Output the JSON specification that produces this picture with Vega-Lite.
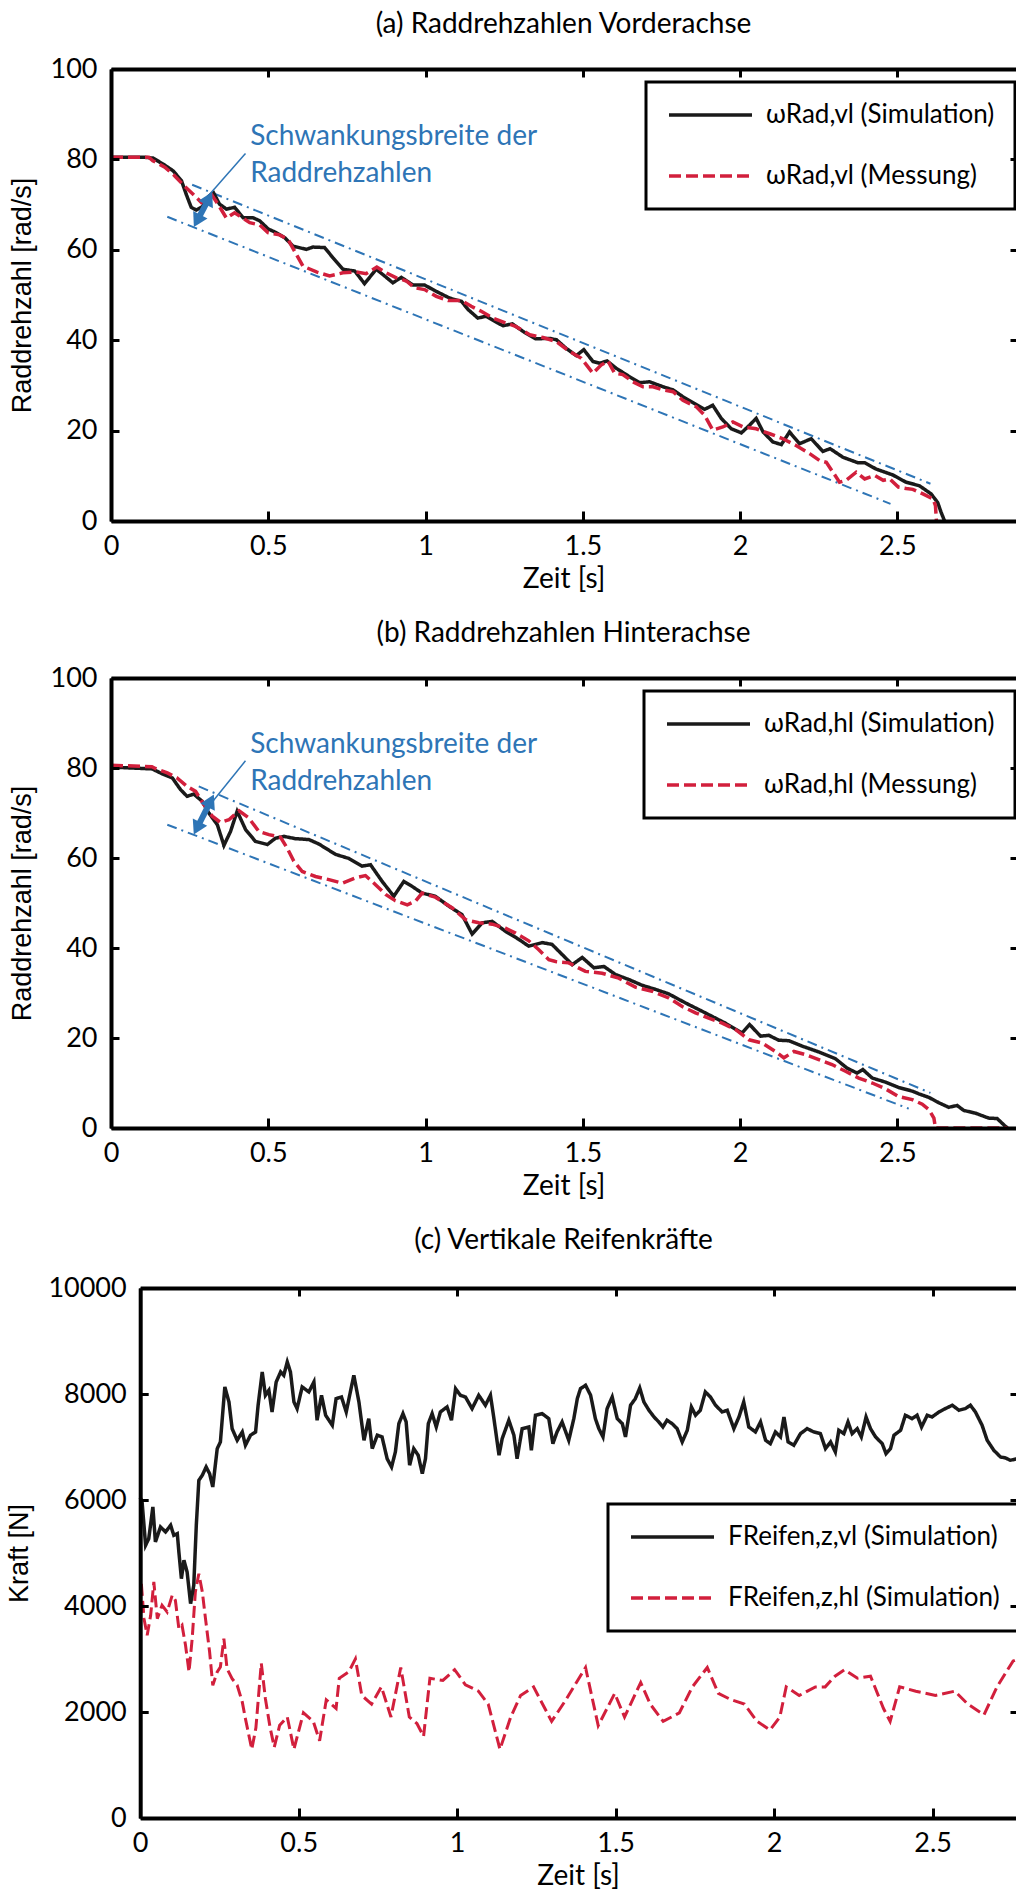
{
"$schema": "https://vega.github.io/schema/vega-lite/v6.json",
"background": "white",
"padding": {"left": 5, "top": 11, "right": 0, "bottom": 0},
"columns": 1,
"spacing": 27,
"resolve": {"scale": {"color": "independent", "strokeDash": "independent", "shape": "independent"}, "legend": {"color": "independent", "strokeDash": "independent"}},
"config": {
 "view": {"stroke": null},
 "font": "Lato",
 "axis": {"domainColor": "#000", "domainWidth": 4, "tickColor": "#000", "tickWidth": 3, "labelFont": "Lato", "labelFontSize": 27, "labelColor": "#000", "titleFont": "Lato", "titleFontSize": 28, "titleFontWeight": "normal", "titleColor": "#000", "grid": false, "labelOverlap": false},
 "axisY": {"titleFont": "Liberation Sans", "titleFontSize": 27},
 "title": {"font": "Lato", "fontSize": 28, "fontWeight": "normal", "color": "#000", "offset": 16},
 "legend": {"title": null, "symbolType": "M-1,0H7.3", "symbolSize": 400, "symbolStrokeWidth": 3.5, "labelFont": "Lato", "labelFontSize": 26, "labelColor": "#000", "labelOffset": 74, "padding": 20, "rowPadding": 35, "strokeColor": "#000", "strokeWidth": 3, "fillColor": "#fff", "labelLimit": 0}
},
"datasets": {
 "a": [
  {"t":0,"v":80.5,"s":"sim"},{"t":0.1,"v":80.5,"s":"sim"},{"t":0.133,"v":80.3,"s":"sim"},{"t":0.165,"v":79.0,"s":"sim"},{"t":0.197,"v":77.5,"s":"sim"},{"t":0.224,"v":75.3,"s":"sim"},{"t":0.239,"v":72.3,"s":"sim"},{"t":0.255,"v":69.4,"s":"sim"},{"t":0.271,"v":68.8,"s":"sim"},{"t":0.29,"v":69.5,"s":"sim"},{"t":0.31,"v":71.8,"s":"sim"},{"t":0.326,"v":72.6,"s":"sim"},{"t":0.345,"v":70.1,"s":"sim"},{"t":0.367,"v":69.0,"s":"sim"},{"t":0.393,"v":69.4,"s":"sim"},{"t":0.42,"v":67.1,"s":"sim"},{"t":0.451,"v":67.1,"s":"sim"},{"t":0.473,"v":66.4,"s":"sim"},{"t":0.5,"v":64.6,"s":"sim"},{"t":0.525,"v":63.8,"s":"sim"},{"t":0.552,"v":62.7,"s":"sim"},{"t":0.579,"v":60.8,"s":"sim"},{"t":0.621,"v":60.1,"s":"sim"},{"t":0.642,"v":60.6,"s":"sim"},{"t":0.679,"v":60.5,"s":"sim"},{"t":0.706,"v":58.2,"s":"sim"},{"t":0.737,"v":55.7,"s":"sim"},{"t":0.775,"v":55.3,"s":"sim"},{"t":0.806,"v":52.5,"s":"sim"},{"t":0.843,"v":55.7,"s":"sim"},{"t":0.87,"v":54.2,"s":"sim"},{"t":0.896,"v":52.7,"s":"sim"},{"t":0.923,"v":53.9,"s":"sim"},{"t":0.96,"v":52.2,"s":"sim"},{"t":0.997,"v":52.2,"s":"sim"},{"t":1.034,"v":50.8,"s":"sim"},{"t":1.077,"v":49.3,"s":"sim"},{"t":1.114,"v":48.6,"s":"sim"},{"t":1.135,"v":46.8,"s":"sim"},{"t":1.166,"v":44.9,"s":"sim"},{"t":1.193,"v":45.3,"s":"sim"},{"t":1.23,"v":43.8,"s":"sim"},{"t":1.246,"v":43.2,"s":"sim"},{"t":1.276,"v":43.6,"s":"sim"},{"t":1.313,"v":41.8,"s":"sim"},{"t":1.35,"v":40.3,"s":"sim"},{"t":1.394,"v":40.4,"s":"sim"},{"t":1.416,"v":40.1,"s":"sim"},{"t":1.447,"v":38.2,"s":"sim"},{"t":1.479,"v":36.6,"s":"sim"},{"t":1.503,"v":37.9,"s":"sim"},{"t":1.532,"v":35.3,"s":"sim"},{"t":1.553,"v":34.9,"s":"sim"},{"t":1.577,"v":35.4,"s":"sim"},{"t":1.606,"v":33.8,"s":"sim"},{"t":1.649,"v":31.9,"s":"sim"},{"t":1.681,"v":30.6,"s":"sim"},{"t":1.712,"v":30.8,"s":"sim"},{"t":1.755,"v":29.7,"s":"sim"},{"t":1.787,"v":29.0,"s":"sim"},{"t":1.818,"v":27.5,"s":"sim"},{"t":1.855,"v":26.0,"s":"sim"},{"t":1.887,"v":24.7,"s":"sim"},{"t":1.913,"v":25.6,"s":"sim"},{"t":1.94,"v":22.7,"s":"sim"},{"t":1.972,"v":20.4,"s":"sim"},{"t":2.004,"v":19.5,"s":"sim"},{"t":2.03,"v":21.2,"s":"sim"},{"t":2.051,"v":22.7,"s":"sim"},{"t":2.073,"v":19.7,"s":"sim"},{"t":2.104,"v":17.5,"s":"sim"},{"t":2.131,"v":16.9,"s":"sim"},{"t":2.157,"v":19.7,"s":"sim"},{"t":2.189,"v":17.1,"s":"sim"},{"t":2.226,"v":18.2,"s":"sim"},{"t":2.263,"v":15.4,"s":"sim"},{"t":2.286,"v":16.0,"s":"sim"},{"t":2.327,"v":14.1,"s":"sim"},{"t":2.374,"v":12.9,"s":"sim"},{"t":2.396,"v":12.9,"s":"sim"},{"t":2.432,"v":11.5,"s":"sim"},{"t":2.485,"v":10.2,"s":"sim"},{"t":2.527,"v":8.6,"s":"sim"},{"t":2.57,"v":7.8,"s":"sim"},{"t":2.607,"v":6.0,"s":"sim"},{"t":2.628,"v":4.1,"s":"sim"},{"t":2.639,"v":1.9,"s":"sim"},{"t":2.65,"v":0,"s":"sim"},
  {"t":0,"v":80.5,"s":"mes"},{"t":0.12,"v":80.5,"s":"mes"},{"t":0.133,"v":79.7,"s":"mes"},{"t":0.171,"v":78.3,"s":"mes"},{"t":0.202,"v":76.4,"s":"mes"},{"t":0.232,"v":74.2,"s":"mes"},{"t":0.261,"v":72.3,"s":"mes"},{"t":0.287,"v":70.5,"s":"mes"},{"t":0.319,"v":72.3,"s":"mes"},{"t":0.34,"v":70.1,"s":"mes"},{"t":0.367,"v":67.0,"s":"mes"},{"t":0.393,"v":68.2,"s":"mes"},{"t":0.409,"v":67.5,"s":"mes"},{"t":0.441,"v":66.0,"s":"mes"},{"t":0.473,"v":65.5,"s":"mes"},{"t":0.499,"v":63.8,"s":"mes"},{"t":0.536,"v":63.3,"s":"mes"},{"t":0.563,"v":62.3,"s":"mes"},{"t":0.589,"v":59.0,"s":"mes"},{"t":0.61,"v":56.4,"s":"mes"},{"t":0.653,"v":55.1,"s":"mes"},{"t":0.695,"v":54.2,"s":"mes"},{"t":0.737,"v":54.9,"s":"mes"},{"t":0.78,"v":55.1,"s":"mes"},{"t":0.811,"v":54.7,"s":"mes"},{"t":0.845,"v":56.2,"s":"mes"},{"t":0.875,"v":54.9,"s":"mes"},{"t":0.907,"v":53.8,"s":"mes"},{"t":0.939,"v":53.1,"s":"mes"},{"t":0.965,"v":51.6,"s":"mes"},{"t":0.997,"v":51.2,"s":"mes"},{"t":1.034,"v":49.7,"s":"mes"},{"t":1.071,"v":48.8,"s":"mes"},{"t":1.114,"v":48.8,"s":"mes"},{"t":1.145,"v":47.5,"s":"mes"},{"t":1.177,"v":46.4,"s":"mes"},{"t":1.214,"v":44.9,"s":"mes"},{"t":1.256,"v":43.8,"s":"mes"},{"t":1.288,"v":43.0,"s":"mes"},{"t":1.331,"v":41.2,"s":"mes"},{"t":1.373,"v":40.6,"s":"mes"},{"t":1.416,"v":39.7,"s":"mes"},{"t":1.458,"v":37.5,"s":"mes"},{"t":1.495,"v":36.0,"s":"mes"},{"t":1.532,"v":32.7,"s":"mes"},{"t":1.558,"v":34.5,"s":"mes"},{"t":1.58,"v":35.4,"s":"mes"},{"t":1.601,"v":32.7,"s":"mes"},{"t":1.627,"v":32.4,"s":"mes"},{"t":1.659,"v":30.8,"s":"mes"},{"t":1.691,"v":29.7,"s":"mes"},{"t":1.723,"v":29.7,"s":"mes"},{"t":1.755,"v":29.0,"s":"mes"},{"t":1.787,"v":28.6,"s":"mes"},{"t":1.818,"v":26.7,"s":"mes"},{"t":1.86,"v":25.3,"s":"mes"},{"t":1.887,"v":23.4,"s":"mes"},{"t":1.913,"v":20.1,"s":"mes"},{"t":1.945,"v":20.8,"s":"mes"},{"t":1.977,"v":21.9,"s":"mes"},{"t":2.01,"v":20.8,"s":"mes"},{"t":2.051,"v":20.4,"s":"mes"},{"t":2.094,"v":19.3,"s":"mes"},{"t":2.136,"v":18.2,"s":"mes"},{"t":2.178,"v":16.7,"s":"mes"},{"t":2.221,"v":14.9,"s":"mes"},{"t":2.252,"v":13.4,"s":"mes"},{"t":2.274,"v":13.0,"s":"mes"},{"t":2.295,"v":10.8,"s":"mes"},{"t":2.316,"v":8.6,"s":"mes"},{"t":2.337,"v":9.0,"s":"mes"},{"t":2.369,"v":10.8,"s":"mes"},{"t":2.396,"v":9.3,"s":"mes"},{"t":2.428,"v":10.1,"s":"mes"},{"t":2.455,"v":9.0,"s":"mes"},{"t":2.476,"v":9.3,"s":"mes"},{"t":2.503,"v":7.5,"s":"mes"},{"t":2.528,"v":7.2,"s":"mes"},{"t":2.549,"v":7.0,"s":"mes"},{"t":2.581,"v":6.0,"s":"mes"},{"t":2.613,"v":4.9,"s":"mes"},{"t":2.621,"v":3.4,"s":"mes"},{"t":2.624,"v":0,"s":"mes"}
 ],
 "bandA": [{"t":0.258,"v":74.4,"g":"oben"},{"t":2.605,"v":8.25,"g":"oben"},{"t":0.179,"v":67.3,"g":"unten"},{"t":2.478,"v":3.8,"g":"unten"}],
 "shaftA": [{"t":0.2737,"v":66.4,"t2":0.3115,"v2":71.4}],
 "ptrA": [{"t":0.4275,"v":81.3,"t2":0.306,"v2":71.7}],
 "headsA": [{"t":0.3115,"v":71.4,"end":"oben"},{"t":0.2737,"v":66.4,"end":"unten"}],
 "noteA": [{"t":0.4425,"v":83.1,"label":"Schwankungsbreite der"},{"t":0.4425,"v":75.0,"label":"Raddrehzahlen"}],
 "b": [
  {"t":0,"v":80.2,"s":"sim"},{"t":0.131,"v":79.8,"s":"sim"},{"t":0.163,"v":78.7,"s":"sim"},{"t":0.195,"v":77.8,"s":"sim"},{"t":0.221,"v":75.2,"s":"sim"},{"t":0.242,"v":73.7,"s":"sim"},{"t":0.263,"v":74.2,"s":"sim"},{"t":0.29,"v":72.6,"s":"sim"},{"t":0.311,"v":70.0,"s":"sim"},{"t":0.338,"v":67.4,"s":"sim"},{"t":0.359,"v":62.8,"s":"sim"},{"t":0.38,"v":65.9,"s":"sim"},{"t":0.401,"v":70.4,"s":"sim"},{"t":0.428,"v":66.3,"s":"sim"},{"t":0.459,"v":63.7,"s":"sim"},{"t":0.497,"v":63.0,"s":"sim"},{"t":0.523,"v":64.4,"s":"sim"},{"t":0.55,"v":64.8,"s":"sim"},{"t":0.586,"v":64.3,"s":"sim"},{"t":0.629,"v":64.1,"s":"sim"},{"t":0.661,"v":63.1,"s":"sim"},{"t":0.714,"v":60.8,"s":"sim"},{"t":0.756,"v":59.9,"s":"sim"},{"t":0.798,"v":58.2,"s":"sim"},{"t":0.825,"v":58.5,"s":"sim"},{"t":0.862,"v":54.8,"s":"sim"},{"t":0.899,"v":51.5,"s":"sim"},{"t":0.931,"v":54.8,"s":"sim"},{"t":0.957,"v":53.7,"s":"sim"},{"t":0.989,"v":52.2,"s":"sim"},{"t":1.031,"v":51.5,"s":"sim"},{"t":1.074,"v":49.3,"s":"sim"},{"t":1.116,"v":47.4,"s":"sim"},{"t":1.148,"v":43.1,"s":"sim"},{"t":1.18,"v":45.6,"s":"sim"},{"t":1.212,"v":45.9,"s":"sim"},{"t":1.254,"v":43.7,"s":"sim"},{"t":1.297,"v":41.9,"s":"sim"},{"t":1.328,"v":40.4,"s":"sim"},{"t":1.371,"v":41.2,"s":"sim"},{"t":1.402,"v":40.8,"s":"sim"},{"t":1.445,"v":37.8,"s":"sim"},{"t":1.466,"v":36.3,"s":"sim"},{"t":1.498,"v":37.9,"s":"sim"},{"t":1.535,"v":35.6,"s":"sim"},{"t":1.567,"v":35.9,"s":"sim"},{"t":1.604,"v":34.1,"s":"sim"},{"t":1.646,"v":33.0,"s":"sim"},{"t":1.689,"v":31.7,"s":"sim"},{"t":1.731,"v":30.8,"s":"sim"},{"t":1.773,"v":29.8,"s":"sim"},{"t":1.826,"v":27.8,"s":"sim"},{"t":1.869,"v":26.3,"s":"sim"},{"t":1.911,"v":24.8,"s":"sim"},{"t":1.953,"v":23.3,"s":"sim"},{"t":2.006,"v":21.1,"s":"sim"},{"t":2.03,"v":23.0,"s":"sim"},{"t":2.065,"v":20.4,"s":"sim"},{"t":2.091,"v":20.6,"s":"sim"},{"t":2.123,"v":19.5,"s":"sim"},{"t":2.155,"v":19.4,"s":"sim"},{"t":2.197,"v":18.2,"s":"sim"},{"t":2.25,"v":16.9,"s":"sim"},{"t":2.303,"v":15.4,"s":"sim"},{"t":2.34,"v":13.3,"s":"sim"},{"t":2.372,"v":12.2,"s":"sim"},{"t":2.39,"v":13.0,"s":"sim"},{"t":2.42,"v":11.1,"s":"sim"},{"t":2.462,"v":10.2,"s":"sim"},{"t":2.504,"v":9.0,"s":"sim"},{"t":2.547,"v":8.2,"s":"sim"},{"t":2.568,"v":7.6,"s":"sim"},{"t":2.6,"v":6.8,"s":"sim"},{"t":2.632,"v":5.6,"s":"sim"},{"t":2.663,"v":4.6,"s":"sim"},{"t":2.69,"v":5.0,"s":"sim"},{"t":2.711,"v":3.9,"s":"sim"},{"t":2.748,"v":3.3,"s":"sim"},{"t":2.79,"v":2.2,"s":"sim"},{"t":2.817,"v":2.1,"s":"sim"},{"t":2.843,"v":0.4,"s":"sim"},{"t":2.85,"v":0,"s":"sim"},
  {"t":0,"v":80.6,"s":"mes"},{"t":0.13,"v":80.3,"s":"mes"},{"t":0.141,"v":79.9,"s":"mes"},{"t":0.179,"v":78.9,"s":"mes"},{"t":0.21,"v":77.8,"s":"mes"},{"t":0.242,"v":75.9,"s":"mes"},{"t":0.269,"v":74.8,"s":"mes"},{"t":0.295,"v":71.9,"s":"mes"},{"t":0.322,"v":69.3,"s":"mes"},{"t":0.348,"v":67.9,"s":"mes"},{"t":0.375,"v":68.5,"s":"mes"},{"t":0.407,"v":70.5,"s":"mes"},{"t":0.438,"v":68.9,"s":"mes"},{"t":0.47,"v":65.9,"s":"mes"},{"t":0.502,"v":65.2,"s":"mes"},{"t":0.539,"v":64.6,"s":"mes"},{"t":0.56,"v":62.2,"s":"mes"},{"t":0.581,"v":59.3,"s":"mes"},{"t":0.608,"v":57.0,"s":"mes"},{"t":0.65,"v":55.9,"s":"mes"},{"t":0.693,"v":55.2,"s":"mes"},{"t":0.735,"v":54.4,"s":"mes"},{"t":0.777,"v":55.6,"s":"mes"},{"t":0.809,"v":56.1,"s":"mes"},{"t":0.836,"v":54.4,"s":"mes"},{"t":0.873,"v":51.9,"s":"mes"},{"t":0.904,"v":50.5,"s":"mes"},{"t":0.942,"v":49.6,"s":"mes"},{"t":0.968,"v":50.4,"s":"mes"},{"t":0.989,"v":52.2,"s":"mes"},{"t":1.031,"v":51.3,"s":"mes"},{"t":1.085,"v":48.9,"s":"mes"},{"t":1.127,"v":46.3,"s":"mes"},{"t":1.169,"v":45.6,"s":"mes"},{"t":1.212,"v":45.3,"s":"mes"},{"t":1.254,"v":44.4,"s":"mes"},{"t":1.286,"v":43.3,"s":"mes"},{"t":1.328,"v":41.6,"s":"mes"},{"t":1.36,"v":39.6,"s":"mes"},{"t":1.392,"v":37.4,"s":"mes"},{"t":1.413,"v":37.0,"s":"mes"},{"t":1.455,"v":36.7,"s":"mes"},{"t":1.508,"v":34.8,"s":"mes"},{"t":1.561,"v":34.4,"s":"mes"},{"t":1.614,"v":33.3,"s":"mes"},{"t":1.667,"v":31.3,"s":"mes"},{"t":1.72,"v":30.4,"s":"mes"},{"t":1.773,"v":28.9,"s":"mes"},{"t":1.816,"v":27.0,"s":"mes"},{"t":1.858,"v":25.6,"s":"mes"},{"t":1.9,"v":24.4,"s":"mes"},{"t":1.943,"v":23.3,"s":"mes"},{"t":1.985,"v":21.9,"s":"mes"},{"t":2.028,"v":19.6,"s":"mes"},{"t":2.07,"v":18.9,"s":"mes"},{"t":2.112,"v":17.0,"s":"mes"},{"t":2.139,"v":15.6,"s":"mes"},{"t":2.171,"v":17.0,"s":"mes"},{"t":2.208,"v":16.3,"s":"mes"},{"t":2.25,"v":15.2,"s":"mes"},{"t":2.292,"v":14.1,"s":"mes"},{"t":2.335,"v":12.6,"s":"mes"},{"t":2.377,"v":11.1,"s":"mes"},{"t":2.42,"v":10.0,"s":"mes"},{"t":2.462,"v":8.7,"s":"mes"},{"t":2.504,"v":7.0,"s":"mes"},{"t":2.547,"v":6.3,"s":"mes"},{"t":2.579,"v":5.3,"s":"mes"},{"t":2.6,"v":4.1,"s":"mes"},{"t":2.616,"v":2.2,"s":"mes"},{"t":2.621,"v":0,"s":"mes"},{"t":2.85,"v":0,"s":"mes"}
 ],
 "bandB": [{"t":0.279,"v":75.9,"g":"oben"},{"t":2.605,"v":7.8,"g":"oben"},{"t":0.179,"v":67.4,"g":"unten"},{"t":2.536,"v":4.3,"g":"unten"}],
 "shaftB": [{"t":0.273,"v":66.6,"t2":0.317,"v2":72.7}],
 "ptrB": [{"t":0.4275,"v":81.6,"t2":0.311,"v2":71.5}],
 "headsB": [{"t":0.317,"v":72.7,"end":"oben"},{"t":0.273,"v":66.6,"end":"unten"}],
 "noteB": [{"t":0.4425,"v":83.4,"label":"Schwankungsbreite der"},{"t":0.4425,"v":75.2,"label":"Raddrehzahlen"}],
 "cvl": [
  {"t":0,"F":6048},{"t":0.006,"F":5963},{"t":0.017,"F":5146},{"t":0.027,"F":5271},{"t":0.04,"F":5869},{"t":0.048,"F":5208},{"t":0.064,"F":5491},{"t":0.08,"F":5397},{"t":0.096,"F":5523},{"t":0.106,"F":5334},{"t":0.117,"F":5365},{"t":0.122,"F":5019},{"t":0.13,"F":4516},{"t":0.138,"F":4863},{"t":0.148,"F":4642},{"t":0.159,"F":4044},{"t":0.169,"F":4391},{"t":0.177,"F":5523},{"t":0.185,"F":6372},{"t":0.196,"F":6467},{"t":0.208,"F":6623},{"t":0.219,"F":6497},{"t":0.229,"F":6246},{"t":0.243,"F":6969},{"t":0.253,"F":7095},{"t":0.267,"F":8133},{"t":0.28,"F":7850},{"t":0.29,"F":7346},{"t":0.306,"F":7127},{"t":0.322,"F":7284},{"t":0.332,"F":7033},{"t":0.348,"F":7222},{"t":0.364,"F":7284},{"t":0.372,"F":7788},{"t":0.385,"F":8416},{"t":0.395,"F":7976},{"t":0.406,"F":8070},{"t":0.416,"F":7661},{"t":0.429,"F":8227},{"t":0.443,"F":8416},{"t":0.453,"F":8354},{"t":0.464,"F":8605},{"t":0.474,"F":8416},{"t":0.485,"F":7850},{"t":0.495,"F":7724},{"t":0.511,"F":8133},{"t":0.532,"F":8039},{"t":0.548,"F":8227},{"t":0.558,"F":7505},{"t":0.572,"F":7976},{"t":0.585,"F":7599},{"t":0.606,"F":7410},{"t":0.618,"F":7912},{"t":0.635,"F":7944},{"t":0.65,"F":7661},{"t":0.663,"F":8039},{"t":0.674,"F":8354},{"t":0.69,"F":7850},{"t":0.706,"F":7127},{"t":0.721,"F":7535},{"t":0.732,"F":6969},{"t":0.748,"F":7222},{"t":0.763,"F":7190},{"t":0.779,"F":6780},{"t":0.793,"F":6623},{"t":0.805,"F":6906},{"t":0.816,"F":7441},{"t":0.829,"F":7630},{"t":0.839,"F":7473},{"t":0.85,"F":6656},{"t":0.863,"F":6969},{"t":0.877,"F":6844},{"t":0.89,"F":6497},{"t":0.9,"F":6780},{"t":0.909,"F":7441},{"t":0.921,"F":7630},{"t":0.934,"F":7378},{"t":0.947,"F":7661},{"t":0.968,"F":7756},{"t":0.982,"F":7505},{"t":0.995,"F":8101},{"t":1.01,"F":7976},{"t":1.026,"F":7944},{"t":1.047,"F":7724},{"t":1.068,"F":7976},{"t":1.089,"F":7788},{"t":1.105,"F":7976},{"t":1.116,"F":7535},{"t":1.132,"F":6844},{"t":1.142,"F":7158},{"t":1.163,"F":7505},{"t":1.179,"F":7222},{"t":1.189,"F":6780},{"t":1.205,"F":7346},{"t":1.226,"F":7378},{"t":1.234,"F":6938},{"t":1.247,"F":7599},{"t":1.268,"F":7630},{"t":1.289,"F":7535},{"t":1.302,"F":7063},{"t":1.315,"F":7284},{"t":1.331,"F":7473},{"t":1.352,"F":7127},{"t":1.368,"F":7535},{"t":1.379,"F":7912},{"t":1.389,"F":8100},{"t":1.405,"F":8165},{"t":1.421,"F":7976},{"t":1.436,"F":7535},{"t":1.447,"F":7346},{"t":1.46,"F":7190},{"t":1.473,"F":7724},{"t":1.489,"F":7944},{"t":1.505,"F":7535},{"t":1.521,"F":7441},{"t":1.531,"F":7190},{"t":1.547,"F":7788},{"t":1.562,"F":7912},{"t":1.576,"F":8114},{"t":1.589,"F":7850},{"t":1.605,"F":7693},{"t":1.621,"F":7567},{"t":1.636,"F":7473},{"t":1.649,"F":7378},{"t":1.662,"F":7505},{"t":1.678,"F":7441},{"t":1.694,"F":7346},{"t":1.71,"F":7095},{"t":1.726,"F":7316},{"t":1.739,"F":7756},{"t":1.752,"F":7599},{"t":1.767,"F":7693},{"t":1.783,"F":8039},{"t":1.799,"F":7944},{"t":1.815,"F":7788},{"t":1.836,"F":7661},{"t":1.852,"F":7693},{"t":1.873,"F":7346},{"t":1.889,"F":7567},{"t":1.904,"F":7850},{"t":1.92,"F":7378},{"t":1.941,"F":7284},{"t":1.957,"F":7473},{"t":1.973,"F":7127},{"t":1.988,"F":7063},{"t":2.004,"F":7284},{"t":2.02,"F":7190},{"t":2.031,"F":7567},{"t":2.044,"F":7095},{"t":2.062,"F":7033},{"t":2.083,"F":7252},{"t":2.104,"F":7346},{"t":2.125,"F":7284},{"t":2.146,"F":7252},{"t":2.162,"F":6969},{"t":2.178,"F":7095},{"t":2.193,"F":6906},{"t":2.204,"F":7316},{"t":2.22,"F":7252},{"t":2.233,"F":7473},{"t":2.246,"F":7252},{"t":2.262,"F":7346},{"t":2.275,"F":7190},{"t":2.29,"F":7567},{"t":2.304,"F":7346},{"t":2.32,"F":7190},{"t":2.341,"F":7063},{"t":2.353,"F":6874},{"t":2.367,"F":6969},{"t":2.378,"F":7222},{"t":2.399,"F":7316},{"t":2.414,"F":7599},{"t":2.435,"F":7535},{"t":2.451,"F":7599},{"t":2.465,"F":7378},{"t":2.483,"F":7599},{"t":2.498,"F":7567},{"t":2.52,"F":7661},{"t":2.54,"F":7724},{"t":2.562,"F":7788},{"t":2.583,"F":7693},{"t":2.603,"F":7724},{"t":2.619,"F":7788},{"t":2.635,"F":7661},{"t":2.656,"F":7410},{"t":2.672,"F":7127},{"t":2.693,"F":6938},{"t":2.714,"F":6812},{"t":2.73,"F":6793},{"t":2.745,"F":6750},{"t":2.769,"F":6780}
 ],
 "chl": [
  {"t":0,"F":4391},{"t":0.004,"F":4391},{"t":0.012,"F":3761},{"t":0.022,"F":3447},{"t":0.033,"F":3825},{"t":0.043,"F":4453},{"t":0.054,"F":3761},{"t":0.069,"F":4013},{"t":0.085,"F":3887},{"t":0.101,"F":4202},{"t":0.111,"F":4108},{"t":0.122,"F":3572},{"t":0.132,"F":3636},{"t":0.143,"F":3259},{"t":0.154,"F":2755},{"t":0.164,"F":3384},{"t":0.174,"F":4265},{"t":0.185,"F":4610},{"t":0.196,"F":4265},{"t":0.206,"F":3761},{"t":0.219,"F":3132},{"t":0.229,"F":2504},{"t":0.243,"F":2755},{"t":0.253,"F":2849},{"t":0.264,"F":3384},{"t":0.274,"F":2817},{"t":0.29,"F":2629},{"t":0.306,"F":2504},{"t":0.322,"F":2189},{"t":0.332,"F":1874},{"t":0.352,"F":1296},{"t":0.365,"F":1700},{"t":0.382,"F":2921},{"t":0.395,"F":2251},{"t":0.41,"F":1700},{"t":0.423,"F":1336},{"t":0.44,"F":1750},{"t":0.464,"F":1906},{"t":0.485,"F":1296},{"t":0.515,"F":1985},{"t":0.546,"F":1823},{"t":0.566,"F":1459},{"t":0.587,"F":2230},{"t":0.618,"F":2066},{"t":0.628,"F":2636},{"t":0.658,"F":2757},{"t":0.679,"F":3002},{"t":0.699,"F":2312},{"t":0.73,"F":2149},{"t":0.761,"F":2474},{"t":0.791,"F":1906},{"t":0.822,"F":2840},{"t":0.849,"F":1906},{"t":0.873,"F":1783},{"t":0.894,"F":1540},{"t":0.914,"F":2636},{"t":0.955,"F":2595},{"t":0.992,"F":2798},{"t":1.026,"F":2514},{"t":1.067,"F":2393},{"t":1.098,"F":2149},{"t":1.135,"F":1296},{"t":1.169,"F":1906},{"t":1.2,"F":2312},{"t":1.241,"F":2474},{"t":1.298,"F":1823},{"t":1.343,"F":2230},{"t":1.405,"F":2840},{"t":1.445,"F":1742},{"t":1.497,"F":2351},{"t":1.528,"F":1906},{"t":1.579,"F":2555},{"t":1.609,"F":2149},{"t":1.65,"F":1823},{"t":1.701,"F":1985},{"t":1.742,"F":2474},{"t":1.789,"F":2840},{"t":1.824,"F":2351},{"t":1.865,"F":2230},{"t":1.906,"F":2149},{"t":1.946,"F":1823},{"t":1.987,"F":1661},{"t":2.018,"F":1906},{"t":2.038,"F":2474},{"t":2.079,"F":2312},{"t":2.13,"F":2474},{"t":2.161,"F":2474},{"t":2.192,"F":2676},{"t":2.222,"F":2798},{"t":2.263,"F":2636},{"t":2.304,"F":2676},{"t":2.345,"F":2066},{"t":2.366,"F":1823},{"t":2.396,"F":2474},{"t":2.447,"F":2393},{"t":2.509,"F":2312},{"t":2.57,"F":2393},{"t":2.611,"F":2149},{"t":2.662,"F":1946},{"t":2.703,"F":2474},{"t":2.754,"F":2963},{"t":2.77,"F":3000}
 ]
},
"concat": [
 {
  "width": 905, "height": 452,
  "title": {"text": "(a) Raddrehzahlen Vorderachse"},
  "resolve": {"axis": {"x": "independent", "y": "independent"}},
  "layer": [
   {"data": {"name": "bandA"}, "mark": {"type": "line", "color": "#2E75B6", "strokeWidth": 2, "strokeDash": [10, 5, 2, 5], "clip": true},
    "encoding": {
     "x": {"field": "t", "type": "quantitative", "scale": {"domain": [0, 2.877], "nice": false, "zero": false}, "axis": {"orient": "top", "labels": false, "title": null, "values": [0, 0.5, 1, 1.5, 2, 2.5], "tickSize": -8, "zindex": 1}},
     "y": {"field": "v", "type": "quantitative", "scale": {"domain": [0, 100], "nice": false, "zero": false}, "axis": {"orient": "right", "labels": false, "title": null, "domain": false, "values": [0, 20, 40, 60, 80, 100], "tickSize": -6, "zindex": 1}},
     "detail": {"field": "g"}}},
   {"data": {"name": "a"}, "mark": {"type": "line", "strokeWidth": 3.5, "clip": true},
    "encoding": {
     "x": {"field": "t", "type": "quantitative", "scale": {"domain": [0, 2.877], "nice": false, "zero": false}, "axis": {"orient": "bottom", "title": "Zeit [s]", "values": [0, 0.5, 1, 1.5, 2, 2.5], "format": "~g", "labelFlush": false, "labelPadding": 22, "tickSize": -10, "titlePadding": 6, "zindex": 1}},
     "y": {"field": "v", "type": "quantitative", "scale": {"domain": [0, 100], "nice": false, "zero": false}, "axis": {"orient": "left", "title": "Raddrehzahl [rad/s]", "values": [0, 20, 40, 60, 80, 100], "labelPadding": 22, "tickSize": -8, "titlePadding": 14, "zindex": 1}},
     "color": {"field": "s", "type": "nominal", "scale": {"domain": ["sim", "mes"], "range": ["#1a1a1a", "#D21F3C"]}, "legend": {"orient": "none", "legendX": 535, "legendY": 13, "labelExpr": "datum.label == 'sim' ? 'ωRad,vl (Simulation)' : 'ωRad,vl (Messung)'"}},
     "strokeDash": {"field": "s", "type": "nominal", "scale": {"domain": ["sim", "mes"], "range": [[1, 0], [12, 5]]}, "legend": {"orient": "none", "legendX": 535, "legendY": 13, "labelExpr": "datum.label == 'sim' ? 'ωRad,vl (Simulation)' : 'ωRad,vl (Messung)'"}}}},
   {"data": {"name": "shaftA"}, "mark": {"type": "rule", "color": "#2E75B6", "strokeWidth": 6},
    "encoding": {"x": {"field": "t", "type": "quantitative", "scale": {"domain": [0, 2.877]}, "axis": null}, "y": {"field": "v", "type": "quantitative", "scale": {"domain": [0, 100]}, "axis": null}, "x2": {"field": "t2"}, "y2": {"field": "v2"}}},
   {"data": {"name": "ptrA"}, "mark": {"type": "rule", "color": "#2E75B6", "strokeWidth": 1.5},
    "encoding": {"x": {"field": "t", "type": "quantitative", "scale": {"domain": [0, 2.877]}, "axis": null}, "y": {"field": "v", "type": "quantitative", "scale": {"domain": [0, 100]}, "axis": null}, "x2": {"field": "t2"}, "y2": {"field": "v2"}}},
   {"data": {"name": "headsA"}, "mark": {"type": "point", "filled": true, "color": "#2E75B6", "opacity": 1, "size": 260, "angle": 27.6},
    "encoding": {"x": {"field": "t", "type": "quantitative", "scale": {"domain": [0, 2.877]}, "axis": null}, "y": {"field": "v", "type": "quantitative", "scale": {"domain": [0, 100]}, "axis": null},
     "shape": {"field": "end", "type": "nominal", "scale": {"domain": ["oben", "unten"], "range": ["triangle-up", "triangle-down"]}, "legend": null}}},
   {"data": {"name": "noteA"}, "mark": {"type": "text", "align": "left", "baseline": "alphabetic", "font": "Lato", "fontSize": 28, "color": "#2E75B6"},
    "encoding": {"x": {"field": "t", "type": "quantitative", "scale": {"domain": [0, 2.877]}, "axis": null}, "y": {"field": "v", "type": "quantitative", "scale": {"domain": [0, 100]}, "axis": null}, "text": {"field": "label"}}}
  ]
 },
 {
  "width": 905, "height": 450,
  "title": {"text": "(b) Raddrehzahlen Hinterachse", "offset": 16},
  "resolve": {"axis": {"x": "independent", "y": "independent"}},
  "layer": [
   {"data": {"name": "bandB"}, "mark": {"type": "line", "color": "#2E75B6", "strokeWidth": 2, "strokeDash": [10, 5, 2, 5], "clip": true},
    "encoding": {
     "x": {"field": "t", "type": "quantitative", "scale": {"domain": [0, 2.877], "nice": false, "zero": false}, "axis": {"orient": "top", "labels": false, "title": null, "values": [0, 0.5, 1, 1.5, 2, 2.5], "tickSize": -8, "zindex": 1}},
     "y": {"field": "v", "type": "quantitative", "scale": {"domain": [0, 100], "nice": false, "zero": false}, "axis": {"orient": "right", "labels": false, "title": null, "domain": false, "values": [0, 20, 40, 60, 80, 100], "tickSize": -6, "zindex": 1}},
     "detail": {"field": "g"}}},
   {"data": {"name": "b"}, "mark": {"type": "line", "strokeWidth": 3.5, "clip": true},
    "encoding": {
     "x": {"field": "t", "type": "quantitative", "scale": {"domain": [0, 2.877], "nice": false, "zero": false}, "axis": {"orient": "bottom", "title": "Zeit [s]", "values": [0, 0.5, 1, 1.5, 2, 2.5], "format": "~g", "labelFlush": false, "labelPadding": 22, "tickSize": -10, "titlePadding": 6, "zindex": 1}},
     "y": {"field": "v", "type": "quantitative", "scale": {"domain": [0, 100], "nice": false, "zero": false}, "axis": {"orient": "left", "title": "Raddrehzahl [rad/s]", "values": [0, 20, 40, 60, 80, 100], "labelPadding": 22, "tickSize": -8, "titlePadding": 14, "zindex": 1}},
     "color": {"field": "s", "type": "nominal", "scale": {"domain": ["sim", "mes"], "range": ["#1a1a1a", "#D21F3C"]}, "legend": {"orient": "none", "legendX": 533, "legendY": 13, "labelExpr": "datum.label == 'sim' ? 'ωRad,hl (Simulation)' : 'ωRad,hl (Messung)'"}},
     "strokeDash": {"field": "s", "type": "nominal", "scale": {"domain": ["sim", "mes"], "range": [[1, 0], [12, 5]]}, "legend": {"orient": "none", "legendX": 533, "legendY": 13, "labelExpr": "datum.label == 'sim' ? 'ωRad,hl (Simulation)' : 'ωRad,hl (Messung)'"}}}},
   {"data": {"name": "shaftB"}, "mark": {"type": "rule", "color": "#2E75B6", "strokeWidth": 6},
    "encoding": {"x": {"field": "t", "type": "quantitative", "scale": {"domain": [0, 2.877]}, "axis": null}, "y": {"field": "v", "type": "quantitative", "scale": {"domain": [0, 100]}, "axis": null}, "x2": {"field": "t2"}, "y2": {"field": "v2"}}},
   {"data": {"name": "ptrB"}, "mark": {"type": "rule", "color": "#2E75B6", "strokeWidth": 1.5},
    "encoding": {"x": {"field": "t", "type": "quantitative", "scale": {"domain": [0, 2.877]}, "axis": null}, "y": {"field": "v", "type": "quantitative", "scale": {"domain": [0, 100]}, "axis": null}, "x2": {"field": "t2"}, "y2": {"field": "v2"}}},
   {"data": {"name": "headsB"}, "mark": {"type": "point", "filled": true, "color": "#2E75B6", "opacity": 1, "size": 260, "angle": 26.6},
    "encoding": {"x": {"field": "t", "type": "quantitative", "scale": {"domain": [0, 2.877]}, "axis": null}, "y": {"field": "v", "type": "quantitative", "scale": {"domain": [0, 100]}, "axis": null},
     "shape": {"field": "end", "type": "nominal", "scale": {"domain": ["oben", "unten"], "range": ["triangle-up", "triangle-down"]}, "legend": null}}},
   {"data": {"name": "noteB"}, "mark": {"type": "text", "align": "left", "baseline": "alphabetic", "font": "Lato", "fontSize": 28, "color": "#2E75B6"},
    "encoding": {"x": {"field": "t", "type": "quantitative", "scale": {"domain": [0, 2.877]}, "axis": null}, "y": {"field": "v", "type": "quantitative", "scale": {"domain": [0, 100]}, "axis": null}, "text": {"field": "label"}}}
  ]
 },
 {
  "width": 905, "height": 530,
  "title": {"text": "(c) Vertikale Reifenkräfte", "offset": 19},
  "resolve": {"axis": {"x": "independent", "y": "independent"}},
  "layer": [
   {"data": {"name": "chl"}, "mark": {"type": "line", "strokeWidth": 3, "clip": true},
    "encoding": {
     "x": {"field": "t", "type": "quantitative", "scale": {"domain": [0, 2.763], "range": [29.2, 905], "nice": false, "zero": false}, "axis": {"orient": "top", "labels": false, "title": null, "values": [0, 0.5, 1, 1.5, 2, 2.5], "tickSize": -8, "zindex": 1}},
     "y": {"field": "F", "type": "quantitative", "scale": {"domain": [0, 10000], "nice": false, "zero": false}, "axis": {"orient": "right", "labels": false, "title": null, "domain": false, "values": [0, 2000, 4000, 6000, 8000, 10000], "tickSize": -6, "zindex": 1}},
     "color": {"datum": "hl", "type": "nominal", "scale": {"domain": ["vl", "hl"], "range": ["#1a1a1a", "#D21F3C"]}, "legend": {"orient": "none", "legendX": 497, "legendY": 216, "labelExpr": "datum.label == 'vl' ? 'FReifen,z,vl (Simulation)' : 'FReifen,z,hl (Simulation)'"}},
     "strokeDash": {"datum": "hl", "type": "nominal", "scale": {"domain": ["vl", "hl"], "range": [[1, 0], [12, 5]]}, "legend": {"orient": "none", "legendX": 497, "legendY": 216, "labelExpr": "datum.label == 'vl' ? 'FReifen,z,vl (Simulation)' : 'FReifen,z,hl (Simulation)'"}}}},
   {"data": {"name": "cvl"}, "mark": {"type": "line", "strokeWidth": 3.5, "clip": true},
    "encoding": {
     "x": {"field": "t", "type": "quantitative", "scale": {"domain": [0, 2.763], "range": [29.2, 905], "nice": false, "zero": false}, "axis": {"orient": "bottom", "title": "Zeit [s]", "values": [0, 0.5, 1, 1.5, 2, 2.5], "format": "~g", "labelFlush": false, "labelPadding": 22, "tickSize": -10, "titlePadding": 6, "zindex": 1}},
     "y": {"field": "F", "type": "quantitative", "scale": {"domain": [0, 10000], "nice": false, "zero": false}, "axis": {"orient": "left", "offset": -29.2, "title": "Kraft [N]", "values": [0, 2000, 4000, 6000, 8000, 10000], "format": "d", "labelPadding": 22, "tickSize": -8, "titlePadding": 14, "zindex": 1}},
     "color": {"datum": "vl", "type": "nominal", "scale": {"domain": ["vl", "hl"], "range": ["#1a1a1a", "#D21F3C"]}, "legend": {"orient": "none", "legendX": 497, "legendY": 216, "labelExpr": "datum.label == 'vl' ? 'FReifen,z,vl (Simulation)' : 'FReifen,z,hl (Simulation)'"}},
     "strokeDash": {"datum": "vl", "type": "nominal", "scale": {"domain": ["vl", "hl"], "range": [[1, 0], [12, 5]]}, "legend": {"orient": "none", "legendX": 497, "legendY": 216, "labelExpr": "datum.label == 'vl' ? 'FReifen,z,vl (Simulation)' : 'FReifen,z,hl (Simulation)'"}}}}
  ]
 }
]
}
